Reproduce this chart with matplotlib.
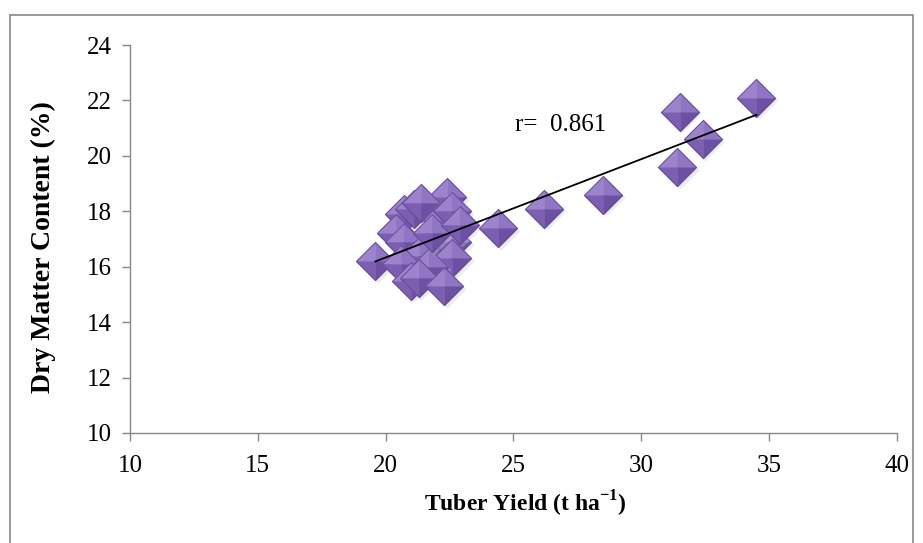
import numpy as np
import matplotlib
matplotlib.use("Agg")
import matplotlib.pyplot as plt
from matplotlib.patches import Rectangle

# tuber yield (t/ha) and dry matter content (%)
tuber_yield = [19.6, 22.4, 20.7, 21.1, 21.4, 22.2, 22.6, 20.4, 20.7, 22.0,
               22.6, 21.3, 22.6, 20.6, 21.7, 21.0, 21.3, 22.3, 21.8, 22.9,
               24.4, 26.2, 28.5, 31.4, 31.5, 32.4, 34.5]
dry_matter = [16.2, 18.5, 17.9, 18.1, 18.3, 17.7, 18.0, 17.2, 16.9, 16.9,
              16.9, 16.4, 16.3, 16.1, 16.0, 15.5, 15.6, 15.3, 17.2, 17.5,
              17.4, 18.1, 18.6, 19.6, 21.6, 20.6, 22.1]
r_text = "r=  0.861"

x_ticks = [10, 15, 20, 25, 30, 35, 40]
y_ticks = [10, 12, 14, 16, 18, 20, 22, 24]

plt.rcParams['font.family'] = ['Liberation Serif', 'DejaVu Serif']
plt.rcParams['mathtext.fontset'] = 'custom'
plt.rcParams['mathtext.rm'] = 'Liberation Serif'
plt.rcParams['mathtext.bf'] = 'Liberation Serif:bold'

fig = plt.figure(figsize=(9.23, 5.43), dpi=100)
ax = fig.add_axes([0.1408, 0.2026, 0.831, 0.7145])

# pyramid-like diamond: four facets around the centre
facets = [
    ([(0, 0), (0, 1), (-1, 0), (0, 0)], '#9d83cc'),   # top left
    ([(0, 0), (1, 0), (0, 1), (0, 0)], '#9075c4'),    # top right
    ([(0, 0), (-1, 0), (0, -1), (0, 0)], '#7c5eb2'),  # bottom left
    ([(0, 0), (0, -1), (1, 0), (0, 0)], '#6d50a3'),   # bottom right
]
ms = 28
z = 3
for xi, yi in zip(tuber_yield, dry_matter):
    ax.plot(xi + 0.1, yi - 0.1, marker='D', ms=ms / 1.414, color='#c8c8c8',
            alpha=0.35, mec='none', zorder=z, linestyle='none')
    for verts, col in facets:
        ax.plot(xi, yi, marker=verts, ms=ms, color=col, mec=col, mew=0.3,
                zorder=z + 0.1, linestyle='none')
    ax.plot(xi, yi, marker='D', ms=ms / 1.414, mfc='none', mec='#5f4593',
            mew=0.6, zorder=z + 0.2, linestyle='none')
    z += 1

# linear trend line
coef = np.polyfit(tuber_yield, dry_matter, 1)
xs = np.array([min(tuber_yield), max(tuber_yield)])
ax.plot(xs, np.polyval(coef, xs), color='black', lw=1.3, zorder=z + 5)

ax.text(25.05, 21.1, r_text, fontsize=18, va='center', ha='left')

ax.set_xlim(10, 40)
ax.set_ylim(10, 24)
ax.set_xticks(x_ticks)
ax.set_yticks(y_ticks)
ax.tick_params(labelsize=18, color='#888888', length=6, width=1)
ax.tick_params(axis='x', pad=10)
ax.tick_params(axis='y', pad=7)
for s in ['top', 'right']:
    ax.spines[s].set_visible(False)
for s in ['left', 'bottom']:
    ax.spines[s].set_color('#888888')
    ax.spines[s].set_linewidth(1)

ax.set_xlabel(r'Tuber Yield (t ha$^{\mathbf{-1}}$)', fontsize=17,
              fontweight='bold', labelpad=8, x=0.515)
ax.set_ylabel('Dry Matter Content (%)', fontsize=20, fontweight='bold',
              labelpad=22, y=0.48)

fig.patches.append(Rectangle((10 / 923, -0.05), 903 / 923, 1.05 - 15 / 543,
                             transform=fig.transFigure, fill=False,
                             edgecolor='#888888', lw=1.2))

fig.savefig('out.png', dpi=100)
